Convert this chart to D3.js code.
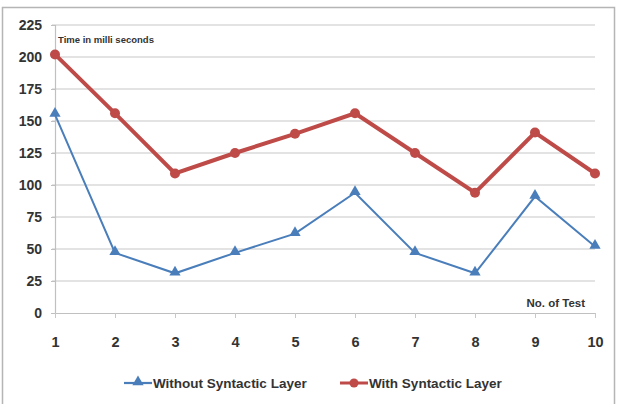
<!DOCTYPE html>
<html>
<head>
<meta charset="utf-8">
<script src="https://cdn.jsdelivr.net/npm/d3@7"></script>
<style>
  body { margin: 0; background: #fff; }
  text { font-family: "Liberation Sans", Arial, sans-serif; }
</style>
</head>
<body>
<div id="chart"></div>
<script>
const WIDTH = 624;
const HEIGHT = 404;
const MARGIN = { left: 55, right: 29, top: 25, bottom: 91 };

// data
const tests = [1, 2, 3, 4, 5, 6, 7, 8, 9, 10];
const withoutLayer = [155, 47, 31, 47, 62, 94, 47, 31, 91, 52];
const withLayer = [202, 156, 109, 125, 140, 156, 125, 94, 141, 109];
const yTicks = [0, 25, 50, 75, 100, 125, 150, 175, 200, 225];
const seriesNames = ["Without Syntactic Layer", "With Syntactic Layer"];

const BLUE = "#4a7ebb";
const RED = "#be4b48";

let svg = d3.select("#chart").append("svg")
  .attr("width", WIDTH)
  .attr("height", HEIGHT);

// outer frame
svg.append("rect")
  .attr("x", 2.5).attr("y", 7.5)
  .attr("width", 612).attr("height", 410)
  .attr("fill", "#fff")
  .attr("stroke", "#b5b5b5")
  .attr("stroke-width", 1.5);

let xScale = d3.scaleLinear()
  .domain([1, 10])
  .range([MARGIN.left, WIDTH - MARGIN.right]);

let yScale = d3.scaleLinear()
  .domain([0, 225])
  .range([HEIGHT - MARGIN.bottom, MARGIN.top]);

// gridlines
svg.append("g")
  .selectAll("line")
  .data(yTicks.filter(d => d > 0))
  .join("line")
  .attr("x1", MARGIN.left - 3)
  .attr("x2", WIDTH - MARGIN.right)
  .attr("y1", d => yScale(d))
  .attr("y2", d => yScale(d))
  .attr("stroke", "#c8c8c8")
  .attr("stroke-width", 1.2);

// y axis
let yAxis = d3.axisLeft(yScale).tickValues(yTicks).tickSize(4).tickPadding(9);
let yG = svg.append("g")
  .attr("transform", `translate(${MARGIN.left},0)`)
  .call(yAxis);
yG.select(".domain").attr("stroke", "#c0c0c0").attr("stroke-width", 1.2);
yG.selectAll(".tick line").attr("stroke", "#c0c0c0");
yG.selectAll("text")
  .attr("font-size", 14).attr("font-weight", "bold").attr("fill", "#333")
  .attr("font-family", "Liberation Sans, Arial, sans-serif");

// x axis
let xAxis = d3.axisBottom(xScale).tickValues(tests).tickSize(5).tickPadding(19)
  .tickFormat(d3.format("d"));
let xG = svg.append("g")
  .attr("transform", `translate(0,${HEIGHT - MARGIN.bottom})`)
  .call(xAxis);
xG.select(".domain").attr("stroke", "#c0c0c0").attr("stroke-width", 1.2)
  .attr("d", `M${MARGIN.left - 3},0.5H${WIDTH - MARGIN.right}`);
xG.selectAll(".tick line").attr("stroke", "#c8c8c8");
xG.selectAll("text")
  .attr("font-size", 14.5).attr("font-weight", "bold").attr("fill", "#333")
  .attr("font-family", "Liberation Sans, Arial, sans-serif");

// axis titles
svg.append("text")
  .attr("x", MARGIN.left + 3).attr("y", 43)
  .attr("font-size", 9.5).attr("font-weight", "bold").attr("fill", "#333")
  .text("Time in milli seconds");
svg.append("text")
  .attr("x", WIDTH - MARGIN.right - 10).attr("y", 307)
  .attr("text-anchor", "end")
  .attr("font-size", 11.5).attr("font-weight", "bold").attr("fill", "#333")
  .text("No. of Test");

// lines
let line = d3.line()
  .x((d, i) => xScale(tests[i]))
  .y(d => yScale(d));

svg.append("path")
  .datum(withoutLayer)
  .attr("d", line)
  .attr("fill", "none")
  .attr("stroke", BLUE)
  .attr("stroke-width", 2);

svg.append("path")
  .datum(withLayer)
  .attr("d", line)
  .attr("fill", "none")
  .attr("stroke", RED)
  .attr("stroke-width", 4);

let triangle = d3.symbol().type(d3.symbolTriangle).size(55);

svg.append("g")
  .selectAll("path")
  .data(withoutLayer)
  .join("path")
  .attr("d", triangle)
  .attr("transform", (d, i) => `translate(${xScale(tests[i])},${yScale(d) - 1})`)
  .attr("fill", BLUE);

svg.append("g")
  .selectAll("circle")
  .data(withLayer)
  .join("circle")
  .attr("cx", (d, i) => xScale(tests[i]))
  .attr("cy", d => yScale(d))
  .attr("r", 5)
  .attr("fill", RED);

// legend
const legendY = 383;
const legendX = [124, 340];
let legend = svg.append("g")
  .selectAll("g")
  .data(seriesNames)
  .join("g")
  .attr("transform", (d, i) => `translate(${legendX[i]},${legendY})`);

legend.append("line")
  .attr("x1", 0).attr("x2", 28)
  .attr("stroke", (d, i) => i === 0 ? BLUE : RED)
  .attr("stroke-width", (d, i) => i === 0 ? 2.2 : 3);

legend.filter((d, i) => i === 0).append("path")
  .attr("d", triangle)
  .attr("transform", "translate(14,-1)")
  .attr("fill", BLUE);
legend.filter((d, i) => i === 1).append("circle")
  .attr("cx", 14).attr("r", 4.5)
  .attr("fill", RED);

legend.append("text")
  .attr("x", 29).attr("y", 5)
  .attr("font-size", 13.5).attr("font-weight", "bold").attr("fill", "#333")
  .text(d => d);
</script>
</body>
</html>
